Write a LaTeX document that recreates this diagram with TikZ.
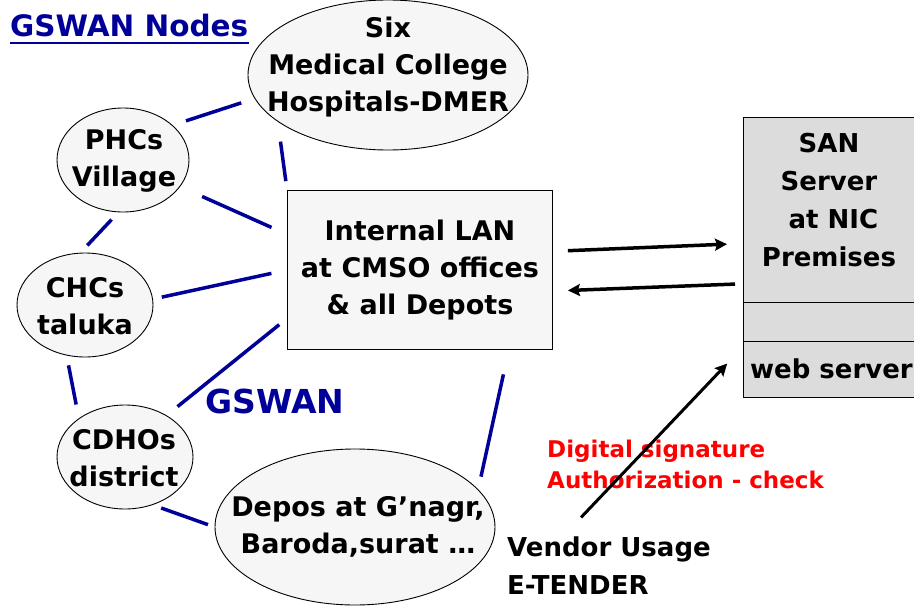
\documentclass[tikz,border=0pt]{standalone}
\usepackage{fontspec}
\setmainfont{DejaVu Sans}
\usetikzlibrary{shapes.geometric,positioning,arrows.meta}
\definecolor{gnavy}{RGB}{0,0,153}
\definecolor{sangray}{RGB}{220,220,220}
\definecolor{dotfill}{RGB}{246,246,246}
\tikzset{
  ell/.style={ellipse,draw,fill=dotfill,inner sep=0pt,line width=0.9pt},
  lbl/.style={font=\fontsize{27}{37}\selectfont\bfseries,align=center,inner sep=0pt},
  link/.style={draw=gnavy,line width=3.5pt},
  flow/.style={draw,line width=3.5pt,-{Stealth[length=12pt,width=12pt,inset=2pt]}},
  sanpart/.style={rectangle,draw,fill=sangray,minimum width=177pt,inner sep=0pt,outer sep=0pt,line width=0.9pt}
}
\begin{document}
\begin{tikzpicture}[x=1pt,y=-1pt]
\useasboundingbox (0,0) rectangle (914,608);
%----title----------------------------------------
\node[anchor=base west,inner sep=0pt,text=gnavy,font=\fontsize{29.5}{35}\selectfont\bfseries] (title) at (10,36) {GSWAN Nodes};
\draw[gnavy,line width=2.5pt] ([yshift=-7pt]title.base west) -- ([yshift=-7pt]title.base east);
%----health nodes---------------------------------
\node[ell,minimum width=280pt,minimum height=150pt] (six) at (388,75) {};
\node[lbl] (sixtxt) at (388,67) {Six\\Medical College\\Hospitals-DMER};
\node[ell,minimum width=132pt,minimum height=104pt] (phc) at (123,160) {};
\node[lbl] (phctxt) at (124,161) {PHCs\\Village};
\node[ell,minimum width=136pt,minimum height=104pt] (chc) at (85,305) {};
\node[lbl] (chctxt) at (85,306) {CHCs\\taluka};
\node[ell,minimum width=136pt,minimum height=104pt] (cdho) at (125,457) {};
\node[lbl] (cdhotxt) at (124,458) {CDHOs\\district};
\node[ell,minimum width=280pt,minimum height=156pt] (depos) at (355,527) {};
\node[lbl] (depostxt) at (358,527) {Depos at G'nagr,\\Baroda,surat …};
%----LAN-----------------------------------------
\node[lbl,draw,fill=dotfill,line width=0.9pt,minimum width=265pt,minimum height=159pt] (lan) at (420,270) {Internal LAN\\at CMSO offices\\\& all Depots};
%----SAN server----------------------------------
\node[sanpart,minimum height=185pt] (san) at (831.5,209.5) {};
\node[lbl,font=\fontsize{26}{38}\selectfont\bfseries] (santxt) at (829,200) {SAN\\Server\\\hphantom{i}at NIC\\Premises};
\node[sanpart,minimum height=39pt,below=0pt of san] (sanmid) {};
\node[sanpart,minimum height=56pt,below=0pt of sanmid,font=\fontsize{26}{38}\selectfont\bfseries] (websrv) {web server};
%----GSWAN links---------------------------------
\draw[link,shorten <=14pt,shorten >=14pt] (phc.35) -- (six.190);
\draw[link,shorten <=20pt,shorten >=9pt] (six.203) -- (lan.north west);
\draw[link,shorten <=24pt,shorten >=17pt] (phc.-25) -- (lan.165);
\draw[link,shorten <=10pt,shorten >=10pt] (phc.265) -- (chc.95);
\draw[link,shorten <=9pt,shorten >=16pt] (chc.5) -- (lan.west);
\draw[link,shorten <=10pt,shorten >=14pt] (chc.250) -- (cdho.140);
\draw[link,shorten <=14pt,shorten >=10pt] (cdho.45) -- (lan.200);
\draw[link,shorten <=9pt,shorten >=7pt] (cdho.-60) -- (depos.west);
\draw[link,shorten <=13pt,shorten >=25pt] (depos.17) -- (lan.-42);
\node[anchor=base west,inner sep=0pt,text=gnavy,font=\fontsize{33}{40}\selectfont\bfseries] (gswan) at (205,413) {GSWAN};
%----vendor side---------------------------------
\node[anchor=north west,inner sep=0pt,align=left,text=red,font=\fontsize{23}{31}\selectfont\bfseries] (sig) at (547,440) {Digital signature\\Authorization - check};
\node[anchor=north west,inner sep=0pt,align=left,font=\fontsize{26}{38}\selectfont\bfseries] (vendor) at (507,537) {Vendor Usage\\E-TENDER};
%----arrows--------------------------------------
\draw[flow,shorten <=15pt,shorten >=16pt] (lan.8.6) -- (san.201);
\draw[flow,shorten <=8pt,shorten >=15pt] (san.220) -- (lan.-9);
\draw[flow,line width=3pt,shorten <=27pt,shorten >=23pt] (vendor.148) -- (websrv.166);
\end{tikzpicture}
\end{document}
